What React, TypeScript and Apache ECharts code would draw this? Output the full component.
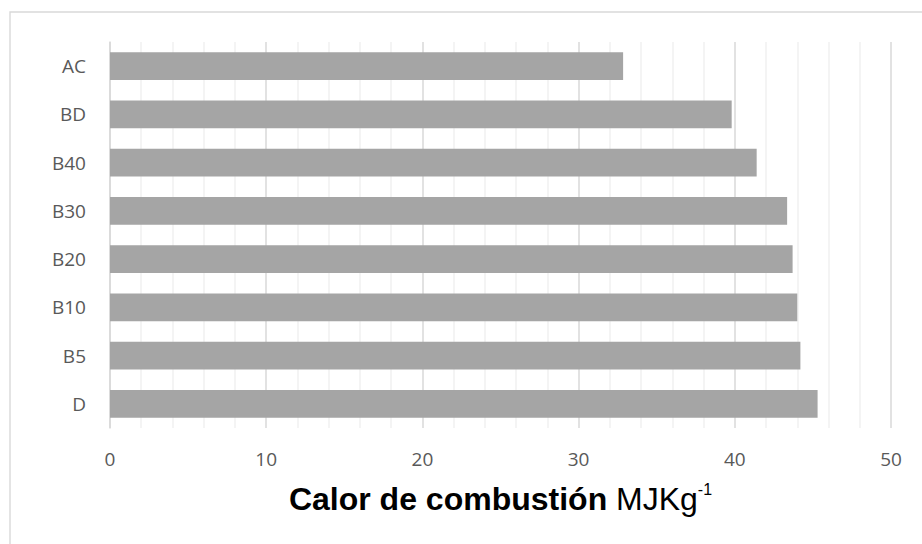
import React, { useEffect, useRef } from "react";
import * as echarts from "echarts";

// Categories listed bottom to top, as the category axis draws them
const categories = ["D", "B5", "B10", "B20", "B30", "B40", "BD", "AC"];
const heatValues = [45.3, 44.2, 44.0, 43.7, 43.35, 41.4, 39.8, 32.85];
const xTicks = { min: 0, max: 50, step: 10 };

export default function App() {
  const ref = useRef<HTMLDivElement>(null);

  useEffect(() => {
    if (!ref.current) return;
    const chart = echarts.init(ref.current, null, { renderer: "svg" });
    chart.setOption({
      animation: false,
      backgroundColor: "#ffffff",
      graphic: [
        {
          type: "rect",
          shape: { x: 10, y: 12, width: 1000, height: 1000 },
          style: { fill: "none", stroke: "#d9d9d9", lineWidth: 1.4 },
          silent: true,
          z: 0,
        },
      ],
      grid: { left: 110, right: 31, top: 42, bottom: 116, containLabel: false },
      xAxis: {
        type: "value",
        min: xTicks.min,
        max: xTicks.max,
        interval: xTicks.step,
        axisLine: { show: false },
        axisTick: { show: false },
        splitLine: { show: true, lineStyle: { color: "#d9d9d9", width: 1.5 } },
        minorTick: { show: false, splitNumber: 5 },
        minorSplitLine: { show: true, lineStyle: { color: "#f0f0f0", width: 1.5 } },
        axisLabel: {
          color: "#595959",
          fontSize: 19,
          fontFamily: "Open Sans",
          margin: 21,
        },
        name: "{b|Calor de combustión}{r| MJKg}{s|-1}",
        nameLocation: "middle",
        nameGap: 53,
        nameTextStyle: {
          rich: {
            b: { fontFamily: "Liberation Sans", fontWeight: "bold", fontSize: 32, color: "#000000", lineHeight: 36 },
            r: { fontFamily: "Liberation Sans", fontSize: 32, color: "#000000", lineHeight: 36 },
            s: { fontFamily: "Liberation Sans", fontSize: 16, color: "#000000", verticalAlign: "top", lineHeight: 36, padding: [0, 0, 14, 0] },
          },
        },
      },
      yAxis: {
        type: "category",
        data: categories,
        axisLine: { show: true, lineStyle: { color: "#d9d9d9", width: 1.5 } },
        axisTick: { show: false },
        splitLine: { show: false },
        axisLabel: {
          color: "#595959",
          fontSize: 19,
          fontFamily: "Open Sans",
          margin: 24,
        },
      },
      series: [
        {
          type: "bar",
          data: heatValues,
          barWidth: "58%",
          itemStyle: { color: "#a5a5a5" },
        },
      ],
    });
    return () => chart.dispose();
  }, []);

  return (
    <div
      ref={ref}
      style={{ position: "fixed", left: 0, top: 0, width: 922, height: 544 }}
    />
  );
}
